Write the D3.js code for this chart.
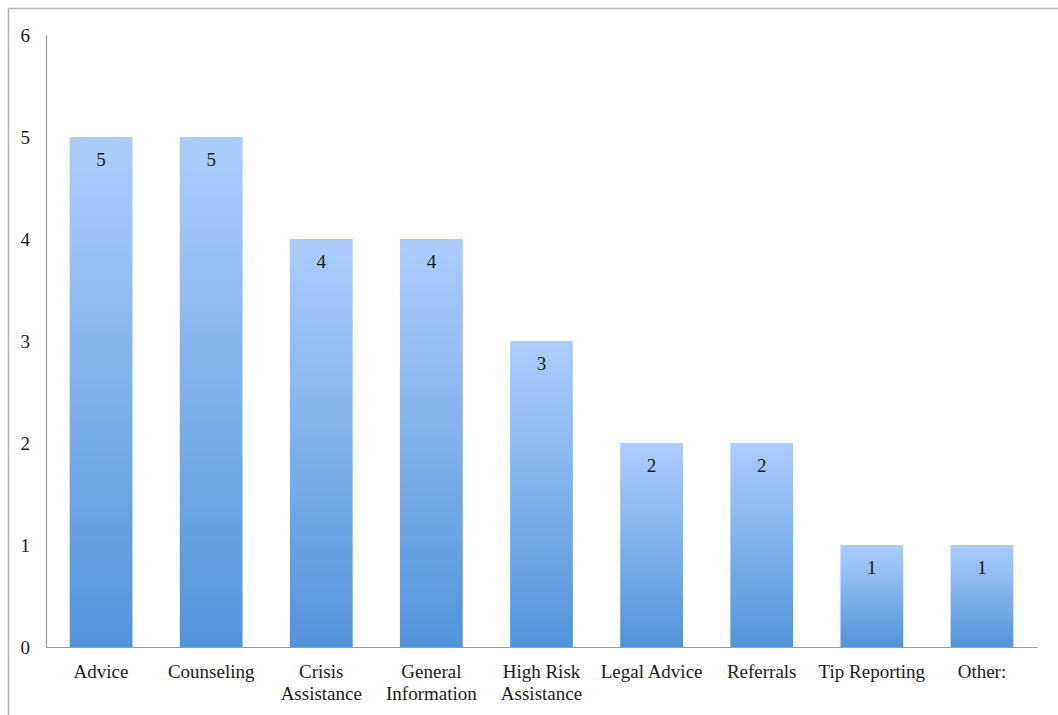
<!DOCTYPE html>
<html>
<head>
<meta charset="utf-8">
<script src="https://cdn.jsdelivr.net/npm/d3@7"></script>
<style>
  html, body { margin: 0; padding: 0; background: #fff; }
  svg { display: block; }
</style>
</head>
<body>
<svg id="chart" width="1058" height="715"></svg>
<script>
// Services offered, count per category
const categories = ["Advice", "Counseling", "Crisis Assistance", "General Information",
                    "High Risk Assistance", "Legal Advice", "Referrals", "Tip Reporting", "Other:"];
// Label lines for each category on the x axis
const categoryLines = [["Advice"], ["Counseling"], ["Crisis", "Assistance"], ["General", "Information"],
                       ["High Risk", "Assistance"], ["Legal Advice"], ["Referrals"], ["Tip Reporting"], ["Other:"]];
const counts = [5, 5, 4, 4, 3, 2, 2, 1, 1];
const yTicks = [0, 1, 2, 3, 4, 5, 6];

const FONT = "'Liberation Serif', 'Times New Roman', serif";
const FS = 19;

const svg = d3.select("#chart");
const W = 1058, H = 715;
const plot = { left: 46, right: 1037, top: 35, bottom: 647 };

// outer frame
svg.append("rect")
  .attr("x", 8.5).attr("y", 8.5)
  .attr("width", W + 20).attr("height", H + 20)
  .attr("fill", "none").attr("stroke", "#b3b3b3").attr("stroke-width", 1.5);

const x = d3.scaleBand().domain(categories).range([plot.left, plot.right]).paddingInner(0.43).paddingOuter(0.215);
const y = d3.scaleLinear().domain([0, 6]).range([plot.bottom, plot.top]);

// bar gradient
const defs = svg.append("defs");
const grad = defs.append("linearGradient").attr("id", "barGrad")
  .attr("x1", 0).attr("y1", 0).attr("x2", 0).attr("y2", 1);
grad.append("stop").attr("offset", "0%").attr("stop-color", "#abcdfb");
grad.append("stop").attr("offset", "50%").attr("stop-color", "#7eb1ec");
grad.append("stop").attr("offset", "100%").attr("stop-color", "#5094da");

// bars
svg.append("g").selectAll("rect")
  .data(counts)
  .join("rect")
  .attr("x", (d, i) => x(categories[i]))
  .attr("y", d => y(d))
  .attr("width", x.bandwidth())
  .attr("height", d => y(0) - y(d))
  .attr("fill", "url(#barGrad)");

// value labels
svg.append("g").selectAll("text")
  .data(counts)
  .join("text")
  .attr("x", (d, i) => x(categories[i]) + x.bandwidth() / 2)
  .attr("y", d => y(d) + 29)
  .attr("text-anchor", "middle")
  .style("font-family", FONT)
  .style("font-size", FS + "px")
  .style("fill", "#1a1a1a")
  .text(d => d);

// y axis
const yAxis = svg.append("g")
  .attr("transform", `translate(${plot.left},0)`)
  .call(d3.axisLeft(y).tickValues(yTicks).tickSize(0).tickPadding(16).tickFormat(d3.format("d")));
yAxis.select(".domain").attr("stroke", "#9a9a9a").attr("stroke-width", 1.2);
yAxis.selectAll("text")
  .style("font-family", FONT)
  .style("font-size", FS + "px")
  .style("fill", "#1a1a1a");

// x axis
const xAxis = svg.append("g")
  .attr("transform", `translate(0,${plot.bottom})`)
  .call(d3.axisBottom(x).tickSize(0).tickFormat(""));
xAxis.select(".domain").attr("stroke", "#9a9a9a").attr("stroke-width", 1.2);

// category labels (multi-line)
const labels = svg.append("g").selectAll("text")
  .data(categories)
  .join("text")
  .attr("x", d => x(d) + x.bandwidth() / 2)
  .attr("y", 678)
  .attr("text-anchor", "middle")
  .style("font-family", FONT)
  .style("font-size", FS + "px")
  .style("fill", "#1a1a1a");
labels.selectAll("tspan")
  .data((d, i) => categoryLines[i])
  .join("tspan")
  .attr("x", function() { return this.parentNode.getAttribute("x"); })
  .attr("dy", (d, j) => j === 0 ? 0 : 22)
  .text(d => d);
</script>
</body>
</html>
